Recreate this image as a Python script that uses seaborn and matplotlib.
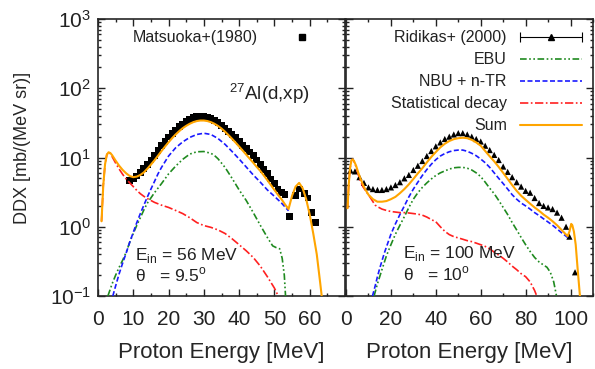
import numpy as np
import pandas as pd
import matplotlib
matplotlib.use("Agg")
import matplotlib.pyplot as plt
import seaborn as sns
from matplotlib.lines import Line2D
from matplotlib.legend_handler import HandlerLine2D, HandlerTuple
from matplotlib.ticker import MultipleLocator, FixedLocator, LogLocator, NullFormatter

# ---- 27Al(d,xp), E_in = 56 MeV, theta = 9.5 deg ----
al56_sum_e = [1.0, 1.5, 2.0, 2.5, 3.0, 3.5, 4.0, 5.0, 6.0, 7.0, 8.0, 9.0, 10.0, 11.0, 12.0, 13.0, 14.0,
              15.0, 16.0, 17.0, 18.0, 19.0, 20.0, 21.0, 22.0, 23.0, 24.0, 25.0, 26.0, 27.0, 28.0, 29.0,
              30.0, 31.0, 32.0, 33.0, 34.0, 35.0, 36.0, 37.0, 38.0, 39.0, 40.0, 41.0, 42.0, 43.0, 44.0,
              45.0, 46.0, 47.0, 48.0, 49.0, 50.0, 51.0, 52.0, 53.0, 54.0, 55.0, 56.0, 57.0, 58.0, 59.0,
              60.0, 61.0, 62.0, 63.0, 63.5]
al56_sum_v = [1.2, 4.0, 8.0, 11.0, 11.9, 11.6, 10.8, 9.0, 7.6, 6.6, 5.9, 5.4, 5.2, 5.3, 5.6, 6.1, 6.9,
              7.9, 9.1, 10.6, 12.4, 14.4, 16.6, 19.0, 21.5, 24.0, 26.5, 28.7, 30.7, 32.4, 33.6, 34.2,
              34.2, 33.6, 32.4, 30.7, 28.6, 26.2, 23.6, 21.0, 18.6, 16.4, 14.4, 12.6, 11.0, 9.6, 8.4,
              7.3, 6.4, 5.5, 4.7, 4.0, 3.4, 2.9, 2.5, 2.1, 1.8, 2.8, 3.8, 4.3, 3.6, 2.5,
              1.5, 0.8, 0.4, 0.15, 0.09]
al56_stat_e = [1.0, 1.5, 2.0, 2.5, 3.0, 3.5, 4.0, 5.0, 6.0, 7.0, 8.0, 9.0, 10.0, 11.0, 12.0, 13.0, 14.0,
               16.0, 18.0, 20.0, 22.0, 24.0, 26.0, 28.0, 30.0, 32.0, 34.0, 36.0, 38.0, 40.0, 42.0, 44.0,
               46.0, 48.0, 50.0, 51.5]
al56_stat_v = [1.2, 4.0, 8.0, 11.0, 11.9, 11.4, 10.3, 8.3, 6.8, 5.7, 4.9, 4.3, 3.8, 3.35, 3.0, 2.75, 2.55,
               2.25, 2.05, 1.9, 1.72, 1.55, 1.35, 1.15, 1.04, 0.98, 0.9, 0.8, 0.67, 0.55, 0.45, 0.36,
               0.27, 0.19, 0.13, 0.09]
al56_nbu_e = [4.2, 5.0, 6.0, 7.0, 8.0, 9.0, 10.0, 11.0, 12.0, 13.0, 14.0, 15.0, 16.0, 17.0, 18.0, 20.0,
              22.0, 24.0, 26.0, 28.0, 30.0, 32.0, 34.0, 36.0, 38.0, 40.0, 42.0, 44.0, 46.0, 48.0, 50.0,
              52.0, 54.0]
al56_nbu_v = [0.1, 0.14, 0.21, 0.3, 0.42, 0.6, 0.83, 1.15, 1.55, 2.05, 2.7, 3.5, 4.5, 5.8, 7.2, 10.5,
              13.8, 16.8, 19.5, 21.5, 22.4, 21.5, 18.8, 15.5, 12.2, 9.5, 7.3, 5.6, 4.4, 3.4, 2.75,
              2.2, 1.7]
al56_ebu_e = [2.8, 4.0, 5.0, 6.0, 7.0, 8.0, 9.0, 10.0, 11.0, 12.0, 13.0, 14.0, 16.0, 18.0, 20.0, 22.0,
              24.0, 26.0, 28.0, 30.0, 32.0, 33.0, 34.0, 36.0, 38.0, 40.0, 42.0, 44.0, 46.0, 48.0, 49.5,
              50.5, 51.5, 52.2, 52.8, 53.2]
al56_ebu_v = [0.1, 0.15, 0.2, 0.26, 0.33, 0.43, 0.6, 0.8, 1.05, 1.35, 1.75, 2.2, 3.1, 4.2, 5.8, 7.5,
              9.4, 11.2, 12.1, 12.2, 11.5, 10.7, 9.6, 7.2, 5.0, 3.4, 2.4, 1.6, 1.05, 0.7, 0.53,
              0.5, 0.48, 0.35, 0.2, 0.09]
matsuoka_e = [9, 10, 11, 12, 13, 14, 15, 16, 17, 18, 19, 20, 21, 22, 23, 24, 25, 26, 27, 28, 29, 30,
              31, 32, 33, 34, 35, 36, 37, 38, 39, 40, 41, 42, 43, 44, 45, 46, 47, 48, 49, 50, 51, 52,
              53, 54.3, 56.0, 57.1, 58.5, 59.5, 60.4, 61.6]
matsuoka_v = [4.6, 4.9, 5.4, 6.0, 6.9, 7.9, 9.2, 10.8, 12.7, 14.8, 17.2, 19.8, 22.5, 25.0, 27.8, 30.5,
              33.0, 35.5, 37.5, 39.0, 39.5, 39.0, 38.0, 36.5, 34.5, 32.0, 29.0, 26.5, 24.0, 21.5, 19.5,
              17.0, 15.0, 13.5, 12.0, 10.8, 9.2, 8.0, 6.8, 5.8, 4.9, 4.2, 3.5, 3.1, 2.9, 1.4, 2.8, 3.5,
              3.0, 2.6, 1.6, 1.15]

# ---- E_in = 100 MeV, theta = 10 deg ----
al100_sum_e = [0.7, 1.2, 1.8, 2.4, 2.9, 3.5, 4.5, 5.5, 6.5, 7.5, 8.5, 10, 12, 14, 16, 18, 20, 22, 24, 26,
               28, 30, 32, 34, 36, 38, 40, 42, 44, 46, 48, 50, 52, 54, 56, 58, 60, 62, 64, 66, 68, 70,
               72, 74, 76, 78, 80, 82, 84, 86, 88, 90, 92, 94, 96, 97.5, 98.7, 99.5, 100.3, 100.8,
               101.5, 102.3, 103.1, 103.8, 104.3]
al100_sum_v = [1.85, 4.0, 7.0, 9.0, 9.4, 9.0, 7.6, 6.0, 4.9, 4.1, 3.5, 2.9, 2.5, 2.3, 2.3, 2.35, 2.5, 2.7,
               3.05, 3.5, 4.1, 4.9, 5.9, 7.0, 8.5, 10.2, 12.0, 14.0, 15.8, 17.3, 18.4, 19.0, 19.3, 19.0,
               18.0, 16.5, 14.8, 12.4, 10.4, 8.8, 7.3, 6.0, 4.9, 4.0, 3.3, 2.8, 2.45, 2.15, 1.9, 1.7,
               1.5, 1.35, 1.2, 1.05, 0.9, 0.8, 0.73, 0.85, 1.1, 1.05, 0.85, 0.55, 0.26, 0.14, 0.09]
al100_stat_e = [0.7, 1.2, 1.8, 2.4, 2.9, 3.5, 4.5, 5.5, 6.5, 7.5, 8.5, 10, 12, 13, 14, 16, 18, 20, 22,
                24, 26, 28, 30, 32, 34, 36, 38, 40, 42, 44, 46, 48, 50, 52, 54, 56, 58, 60, 62, 64, 66,
                68, 70, 72, 74, 76, 78, 80, 82, 84, 85.5]
al100_stat_v = [1.85, 4.0, 7.0, 9.0, 9.4, 8.9, 7.3, 5.6, 4.5, 3.8, 3.4, 2.9, 2.3, 2.05, 1.95, 1.8, 1.72,
                1.66, 1.63, 1.6, 1.6, 1.58, 1.55, 1.52, 1.47, 1.38, 1.27, 1.18, 1.0, 0.86, 0.77, 0.72,
                0.69, 0.66, 0.63, 0.61, 0.58, 0.55, 0.52, 0.48, 0.43, 0.39, 0.35, 0.31, 0.27, 0.24,
                0.21, 0.19, 0.16, 0.12, 0.09]
al100_nbu_e = [11.8, 13, 14, 15, 16, 17, 18, 20, 22, 24, 26, 28, 30, 32, 34, 36, 38, 40, 42, 44, 46,
               48, 50, 52, 54, 56, 58, 60, 62, 64, 66, 68, 70, 72, 74, 76, 78, 80, 82, 84, 86, 88, 90,
               92, 94, 96, 98, 98.7]
al100_nbu_v = [0.1, 0.14, 0.19, 0.25, 0.32, 0.41, 0.51, 0.78, 1.1, 1.5, 2.0, 2.7, 3.5, 4.4, 5.5, 6.7,
               8.0, 9.3, 10.5, 11.4, 12.1, 12.6, 12.8, 12.8, 12.3, 11.5, 10.6, 9.5, 8.4, 7.2, 6.0, 5.0,
               4.2, 3.5, 2.9, 2.5, 2.2, 2.0, 1.8, 1.6, 1.45, 1.3, 1.17, 1.05, 0.93, 0.82, 0.73, 0.7]
al100_ebu_e = [12.5, 14, 16, 18, 20, 22, 24, 26, 28, 30, 32, 34, 36, 38, 40, 42, 44, 46, 48, 50, 52, 54,
               56, 58, 60, 62, 64, 66, 68, 70, 72, 74, 76, 78, 80, 82, 84, 86, 88, 89.5, 91, 92.5, 93.5,
               94]
al100_ebu_v = [0.1, 0.15, 0.24, 0.38, 0.55, 0.78, 1.05, 1.4, 1.9, 2.5, 3.1, 3.7, 4.3, 4.9, 5.5, 6.0,
               6.4, 6.8, 7.1, 7.2, 7.2, 7.0, 6.6, 6.0, 5.3, 4.4, 3.6, 3.0, 2.4, 1.9, 1.5, 1.15, 0.9,
               0.7, 0.55, 0.44, 0.36, 0.31, 0.28, 0.26, 0.22, 0.16, 0.11, 0.09]
ridikas_e = [2, 4, 6, 8, 10, 12, 14, 16, 18, 20, 22, 24, 26, 28, 30, 32, 34, 36, 38, 40, 42, 44, 46, 48,
             50, 52, 54, 56, 58, 60, 62, 64, 66, 68, 70, 72, 74, 76, 78, 80, 82, 84, 86, 88, 90, 92, 94,
             96, 98, 99.5, 102]
ridikas_v = [6.5, 6.3, 5.2, 4.3, 3.7, 3.5, 3.4, 3.4, 3.5, 3.7, 4.0, 4.4, 5.0, 5.6, 6.6, 7.6, 8.9, 10.5,
             12.4, 14.5, 16.5, 18.5, 20.0, 21.5, 22.5, 22.5, 21.5, 20.0, 18.5, 17.0, 14.8, 12.8, 10.9,
             9.2, 7.4, 6.2, 5.2, 4.4, 3.8, 3.3, 3.1, 2.6, 2.2, 2.0, 1.9, 1.8, 1.6, 1.35, 1.0, 0.72, 0.22]

components = ["EBU", "NBU + n-TR", "Statistical decay", "Sum"]
comp_colors = {"EBU": "#1f8a1f", "NBU + n-TR": "#1a1aff",
               "Statistical decay": "#ff2020", "Sum": "#ffa500"}
comp_dashes = {"EBU": (0, (4, 1.5, 1, 1.5, 1, 1.5)), "NBU + n-TR": (0, (3, 1.5)),
               "Statistical decay": (0, (5, 1.5, 1, 1.5)), "Sum": "-"}
comp_lw = {"EBU": 1.2, "NBU + n-TR": 1.2, "Statistical decay": 1.2, "Sum": 1.5}

sns.set_style("ticks")
plt.rcParams["font.family"] = ["Liberation Sans", "DejaVu Sans"]
plt.rcParams["axes.linewidth"] = 1.2
plt.rcParams["text.color"] = "#222222"

fig = plt.figure(figsize=(5.95, 3.69), dpi=100)
ax1 = fig.add_axes([98 / 595, 73 / 369, 247 / 595, 277 / 369])
ax2 = fig.add_axes([346 / 595, 73 / 369, 247 / 595, 277 / 369])

panels = [
    (ax1, {"EBU": (al56_ebu_e, al56_ebu_v), "NBU + n-TR": (al56_nbu_e, al56_nbu_v),
           "Statistical decay": (al56_stat_e, al56_stat_v), "Sum": (al56_sum_e, al56_sum_v)}),
    (ax2, {"EBU": (al100_ebu_e, al100_ebu_v), "NBU + n-TR": (al100_nbu_e, al100_nbu_v),
           "Statistical decay": (al100_stat_e, al100_stat_v), "Sum": (al100_sum_e, al100_sum_v)}),
]

sns.scatterplot(x=matsuoka_e, y=matsuoka_v, ax=ax1, marker="s", s=24, color="black",
                edgecolor="none", zorder=2)
sns.scatterplot(x=ridikas_e, y=ridikas_v, ax=ax2, marker="^", s=20, color="black",
                edgecolor="none", zorder=2)

for ax, curves in panels:
    for name in components:
        e, v = curves[name]
        sns.lineplot(x=e, y=v, ax=ax, color=comp_colors[name], linestyle=comp_dashes[name],
                     lw=comp_lw[name], sort=False, estimator=None, zorder=3)

for ax in (ax1, ax2):
    ax.set_yscale("log")
    ax.set_ylim(0.1, 1000)
    ax.yaxis.set_major_locator(LogLocator(base=10, numticks=10))
    ax.yaxis.set_minor_locator(LogLocator(base=10, subs=np.arange(2, 10), numticks=20))
    ax.yaxis.set_minor_formatter(NullFormatter())
    ax.tick_params(which="both", direction="in", top=True, right=True, width=1,
                   labelsize=15, colors="#222222")
    ax.tick_params(which="major", length=5)
    ax.tick_params(which="minor", length=2.5)
    ax.tick_params(axis="x", pad=10)
    ax.tick_params(axis="y", pad=5)
    ax.set_xlabel("Proton Energy [MeV]", fontsize=16)
    ax.xaxis.set_label_coords(0.5, -0.165)
    ax.set_ylabel("")

ax1.set_xlim(0, 70)
ax1.xaxis.set_major_locator(FixedLocator([0, 10, 20, 30, 40, 50, 60]))
ax1.xaxis.set_minor_locator(MultipleLocator(5))
ax2.set_xlim(0, 110)
ax2.xaxis.set_major_locator(FixedLocator([0, 20, 40, 60, 80, 100]))
ax2.xaxis.set_minor_locator(MultipleLocator(10))
ax2.tick_params(labelleft=False)

ax1.set_ylabel("DDX [mb/(MeV sr)]", fontsize=13)
ax1.yaxis.set_label_coords(-0.27, 0.535)

# annotations
ax1.text(0.53, 0.73, r"$^{\mathregular{27}}$Al(d,xp)", transform=ax1.transAxes,
         fontsize=13.5, ha="left", va="center")
ax1.text(0.15, 0.13, r"E$_{\mathregular{in}}$ = 56 MeV", transform=ax1.transAxes,
         fontsize=12.5, ha="left", va="baseline")
ax1.text(0.15, 0.052, r"θ   = 9.5$^{\mathregular{o}}$", transform=ax1.transAxes,
         fontsize=12.5, ha="left", va="baseline")
ax2.text(0.229, 0.136, r"E$_{\mathregular{in}}$ = 100 MeV", transform=ax2.transAxes,
         fontsize=12.5, ha="left", va="baseline")
ax2.text(0.229, 0.058, r"θ   = 10$^{\mathregular{o}}$", transform=ax2.transAxes,
         fontsize=12.5, ha="left", va="baseline")

# legends
sq = Line2D([], [], ls="none", marker="s", color="black", ms=5)
ax1.legend([sq], ["Matsuoka+(1980)"], loc="upper left", bbox_to_anchor=(0.095, 1.0),
           markerfirst=False, frameon=False, fontsize=11.5, handlelength=2.0,
           handletextpad=1.75, borderpad=0.3, borderaxespad=0.4)

caps = Line2D([], [], color="black", lw=0.8, marker="|", ms=7, mew=0.8)
tri = Line2D([], [], ls="none", marker="^", color="black", ms=5)
handles = [(caps, tri)] + [Line2D([], [], color=comp_colors[n], linestyle=comp_dashes[n],
                                  lw=comp_lw[n]) for n in components]
labels = ["Ridikas+ (2000)"] + components
ax2.legend(handles, labels, loc="upper right", markerfirst=False, frameon=False, fontsize=11.5,
           handlelength=3.9, handletextpad=0.8, labelspacing=0.44, borderpad=0.3,
           borderaxespad=0.4,
           handler_map={tuple: HandlerTuple(ndivide=1, pad=0),
                        caps: HandlerLine2D(numpoints=2, marker_pad=0)})

fig.savefig("out.png", dpi=100)
